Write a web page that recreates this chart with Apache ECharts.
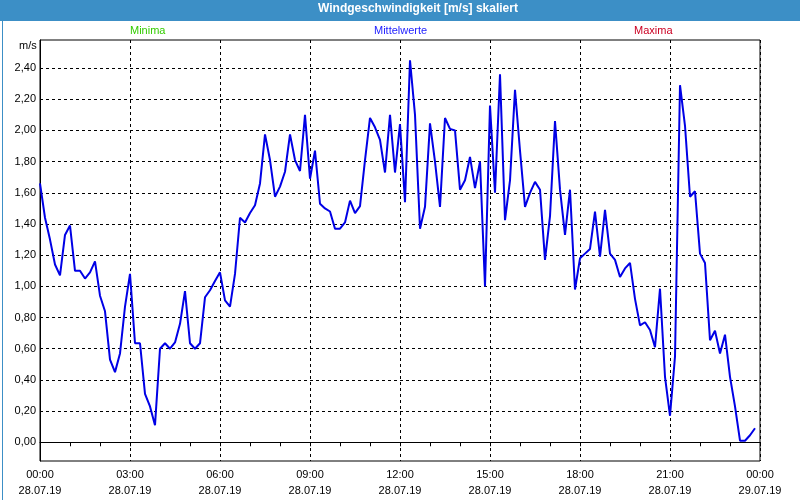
<!DOCTYPE html>
<html>
<head>
<meta charset="utf-8">
<script src="https://cdn.jsdelivr.net/npm/echarts@6/dist/echarts.min.js"></script>
<style>html,body{margin:0;padding:0;background:#fff}#c{width:800px;height:500px}</style>
</head>
<body>
<div id="c"></div>
<script>
// Mittelwerte (m/s), one value every 10 minutes from 00:00 to 23:50 on 28.07.19
const meanValues = [
  1.66, 1.44, 1.30, 1.14, 1.07, 1.33, 1.39, 1.10, 1.10, 1.05,
  1.09, 1.16, 0.94, 0.84, 0.53, 0.45, 0.57, 0.87, 1.08, 0.635,
  0.635, 0.31, 0.23, 0.11, 0.60, 0.635, 0.60, 0.64, 0.76, 0.97,
  0.635, 0.60, 0.635, 0.93, 0.975, 1.035, 1.09, 0.91, 0.87, 1.08,
  1.44, 1.41, 1.47, 1.52, 1.66, 1.975, 1.81, 1.575, 1.64, 1.735,
  1.975, 1.81, 1.74, 2.10, 1.69, 1.87, 1.53, 1.50, 1.48, 1.37,
  1.37, 1.41, 1.55, 1.47, 1.515, 1.81, 2.08, 2.02, 1.94, 1.73,
  2.10, 1.73, 2.04, 1.54, 2.45, 2.10, 1.37, 1.51, 2.045, 1.80,
  1.51, 2.08, 2.01, 2.00, 1.62, 1.68, 1.83, 1.63, 1.80, 1.00,
  2.16, 1.60, 2.36, 1.425, 1.68, 2.26, 1.87, 1.51, 1.60, 1.67,
  1.62, 1.17, 1.45, 2.06, 1.62, 1.33, 1.62, 0.98, 1.18, 1.21,
  1.24, 1.48, 1.19, 1.49, 1.21, 1.17, 1.06, 1.115, 1.15, 0.92,
  0.75, 0.77, 0.72, 0.61, 0.985, 0.42, 0.17, 0.55, 2.29, 2.03,
  1.575, 1.61, 1.21, 1.15, 0.655, 0.715, 0.57, 0.69, 0.42, 0.23,
  0.01, 0.01, 0.045, 0.09
];
const sampleStepMinutes = 10;
const xTimeLabels = ['00:00','03:00','06:00','09:00','12:00','15:00','18:00','21:00','00:00'];
const xDateLabels = ['28.07.19','28.07.19','28.07.19','28.07.19','28.07.19','28.07.19','28.07.19','28.07.19','29.07.19'];
const yTickValues = [0, 0.2, 0.4, 0.6, 0.8, 1.0, 1.2, 1.4, 1.6, 1.8, 2.0, 2.2, 2.4];
const legendNames = ['Minima', 'Mittelwerte', 'Maxima'];
const chartTitle = 'Windgeschwindigkeit [m/s] skaliert';
const unitLabel = 'm/s';

const FONT = 'Liberation Sans';
const frameBlue = '#3c8fc6';
const seriesData = meanValues.map((v, i) => [i * sampleStepMinutes, v]);

const chart = echarts.init(document.getElementById('c'), null, {renderer: 'canvas'});
chart.setOption({
  animation: false,
  backgroundColor: '#ffffff',
  graphic: [
    {type: 'rect', left: 0, top: 0, shape: {width: 800, height: 21}, style: {fill: frameBlue}, z: -1},
    {type: 'rect', left: 0, top: 0, shape: {x: 0.5, y: 0.5, width: 799, height: 499}, style: {fill: 'none', stroke: frameBlue, lineWidth: 1}, z: -1}
  ],
  title: [
    {text: chartTitle, left: 318, top: 3, padding: 0,
     textStyle: {color: '#ffffff', fontFamily: FONT, fontWeight: 'bold', fontSize: 12}},
    {text: legendNames[0], left: 130, top: 25, padding: 0,
     textStyle: {color: '#33cc00', fontFamily: FONT, fontWeight: 'normal', fontSize: 11}},
    {text: legendNames[1], left: 374, top: 25, padding: 0,
     textStyle: {color: '#2222ff', fontFamily: FONT, fontWeight: 'normal', fontSize: 11}},
    {text: legendNames[2], left: 634, top: 25, padding: 0,
     textStyle: {color: '#cc0022', fontFamily: FONT, fontWeight: 'normal', fontSize: 11}},
    {text: unitLabel, left: 19, top: 40, padding: 0,
     textStyle: {color: '#000000', fontFamily: FONT, fontWeight: 'normal', fontSize: 11}}
  ],
  grid: {left: 40, right: 40, top: 40, bottom: 39, show: true, borderColor: '#000', borderWidth: 1, backgroundColor: '#fff'},
  xAxis: {
    type: 'value', min: 0, max: 1440, interval: 180,
    axisLine: {show: true, lineStyle: {color: '#000', width: 1}},
    axisTick: {show: true, length: 4, lineStyle: {color: '#000'}},
    minorTick: {show: true, splitNumber: 3, length: 4, lineStyle: {color: '#000'}},
    splitLine: {show: true, lineStyle: {color: '#000', type: [3, 3], width: 1}},
    axisLabel: {
      margin: 6, color: '#000', fontFamily: FONT, fontSize: 11, lineHeight: 16,
      formatter: (v) => { const k = Math.round(v / 180); return xTimeLabels[k] + '\n' + xDateLabels[k]; }
    }
  },
  yAxis: {
    type: 'value', min: -0.12, max: 2.58,
    axisLine: {show: true, lineStyle: {color: '#000', width: 1}},
    axisTick: {show: false, customValues: yTickValues},
    splitLine: {show: true, lineStyle: {color: '#000', type: [3, 3], width: 1}},
    axisLabel: {
      customValues: yTickValues, margin: 4, color: '#000', fontFamily: FONT, fontSize: 11,
      formatter: (v) => v.toFixed(2).replace('.', ',')
    }
  },
  series: [{
    name: legendNames[1], type: 'line', data: seriesData, showSymbol: false,
    lineStyle: {color: '#0000e6', width: 2}, itemStyle: {color: '#0000e6'}
  }]
});
</script>
</body>
</html>
